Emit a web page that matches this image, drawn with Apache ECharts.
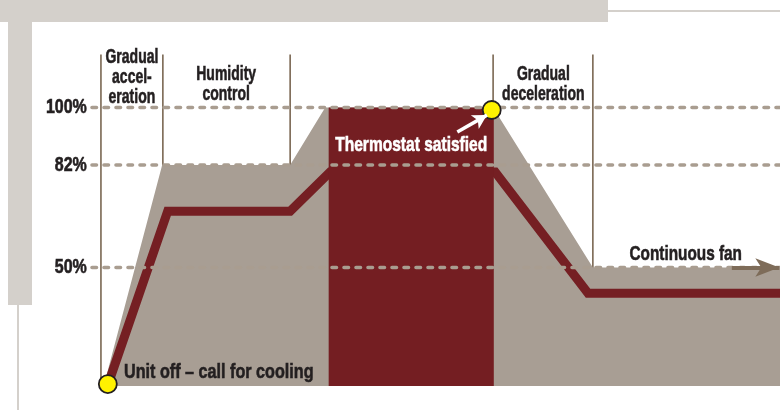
<!DOCTYPE html>
<html>
<head>
<meta charset="UTF-8">
<title>Fan speed profile</title>
<script src="https://cdn.jsdelivr.net/npm/echarts@6/dist/echarts.min.js"></script>
<style>
  body { margin: 0; background: #fff; }
  .frame { position: absolute; background: #d4d0cb; }
  #chart { position: absolute; left: 0; top: 0; width: 780px; height: 410px; }
</style>
</head>
<body>
<div class="frame" style="left:0;top:0;width:608px;height:22px"></div>
<div class="frame" style="left:8px;top:22px;width:24px;height:283px"></div>
<div class="frame" style="left:608px;top:10px;width:172px;height:2px"></div>
<div class="frame" style="left:17px;top:305px;width:2px;height:105px"></div>
<div id="chart"></div>
<script>
// time runs 0..100 across the plot, fan speed in percent
var yMin = 13, yMax = 117;

// reference levels (dashed) and their labels
var levels = [100, 82, 50];
var levelLabels = ['100%', '82%', '50%'];

// phase boundaries (vertical lines)
var phaseX = [1.3, 10.3, 28.8, 58.3, 72.8];

// capacity envelope (grey area)
var envelope = [[1.7, 13], [10.2, 82], [28.8, 82], [33.9, 100], [58.3, 100], [72.8, 50], [100, 50]];

// blower speed (dark red line)
var airflow = [[2.3, 13.3], [11.0, 67.6], [28.8, 67.6], [34.6, 79.8], [58.6, 79.8], [72.1, 42], [100, 42]];

// thermostat satisfied block
var satisfied = [[34.4, 100], [58.4, 100]];

// yellow event points
var events = [[2.3, 13.6], [58.1, 99.2]];

// annotation texts
var notes = [
  { name: 'Gradual\naccel-\neration', value: [5.8, 109.3], size: 20, sx: 0.70, color: '#231f20', align: 'center' },
  { name: 'Humidity\ncontrol', value: [19.5, 107.2], size: 20, sx: 0.70, color: '#231f20', align: 'center' },
  { name: 'Gradual\ndeceleration', value: [65.6, 107.2], size: 20, sx: 0.70, color: '#231f20', align: 'center' },
  { name: 'Thermostat satisfied', value: [46.4, 88.3], size: 21, sx: 0.74, color: '#ffffff', align: 'center' },
  { name: 'Continuous fan', value: [86.3, 54.2], size: 21, sx: 0.73, color: '#231f20', align: 'center' },
  { name: 'Unit off \u2013 call for cooling', value: [4.65, 17.3], size: 21, sx: 0.77, color: '#231f20', align: 'left' }
];
levels.forEach(function (v, i) {
  notes.push({ name: levelLabels[i], value: [-0.75, v], size: 20, sx: 0.8, color: '#231f20', align: 'right' });
});

var FONT = '"Liberation Sans", Arial, sans-serif';
var series = [];

phaseX.forEach(function (x) {
  series.push({
    type: 'line', z: 1, symbol: 'none', silent: true,
    data: [[x, yMin], [x, 116.5]],
    lineStyle: { color: '#7a6752', width: 1.6 }
  });
});

series.push({
  type: 'line', z: 2, symbol: 'none', silent: true,
  data: envelope,
  lineStyle: { width: 0 },
  areaStyle: { color: '#a89e94', opacity: 1, origin: 'start' }
});

series.push({
  type: 'line', z: 3, symbol: 'none', silent: true,
  data: airflow,
  lineStyle: { color: '#751f23', width: 9, join: 'miter', cap: 'butt' }
});

series.push({
  type: 'line', z: 4, symbol: 'none', silent: true,
  data: satisfied,
  lineStyle: { width: 0 },
  areaStyle: { color: '#741e22', opacity: 1, origin: 'start' }
});

levels.forEach(function (v) {
  series.push({
    type: 'line', z: 5, symbol: 'none', silent: true,
    data: [[0, v], [100, v]],
    lineStyle: { color: '#a99d90', width: 3.6, type: [4.5, 7.5], cap: 'round' }
  });
});

// arrows
function arrow(from, to, color, width, size) {
  return {
    type: 'line', z: 6, data: [], silent: true,
    markLine: {
      z: 10, silent: true, animation: false, symbol: ['none', 'arrow'], symbolSize: size,
      label: { show: false },
      lineStyle: { color: color, width: width, type: 'solid', opacity: 1 },
      data: [[{ coord: from }, { coord: to }]]
    }
  };
}
series.push(arrow([53.1, 92.3], [57.4, 97.6], '#ffffff', 3.5, [12, 14]));
series.push(arrow([93.0, 50], [99.9, 50], '#7e6c59', 4, [14, 24]));

series.push({
  type: 'scatter', z: 7, silent: true,
  data: events,
  symbolSize: 18,
  itemStyle: { color: '#fff200', borderColor: '#231f20', borderWidth: 1.8, opacity: 1 }
});

series.push({
  type: 'custom', z: 8, silent: true,
  data: notes.map(function (n) { return n.value; }),
  renderItem: function (params, api) {
    var n = notes[params.dataIndex];
    var p = api.coord([api.value(0), api.value(1)]);
    return {
      type: 'text', x: p[0], y: p[1], scaleX: n.sx,
      style: {
        text: n.name, fill: n.color, align: n.align, verticalAlign: 'middle',
        stroke: n.color, lineWidth: 0.6,
        font: 'bold ' + n.size + 'px ' + FONT, lineHeight: 20
      }
    };
  }
});

var chart = echarts.init(document.getElementById('chart'), null, { renderer: 'canvas' });
chart.setOption({
  animation: false,
  backgroundColor: 'transparent',
  grid: { left: 92, right: 0, top: 53, bottom: 24 },
  xAxis: { type: 'value', min: 0, max: 100, show: false },
  yAxis: { type: 'value', min: yMin, max: yMax, show: false },
  series: series
});
</script>
</body>
</html>
